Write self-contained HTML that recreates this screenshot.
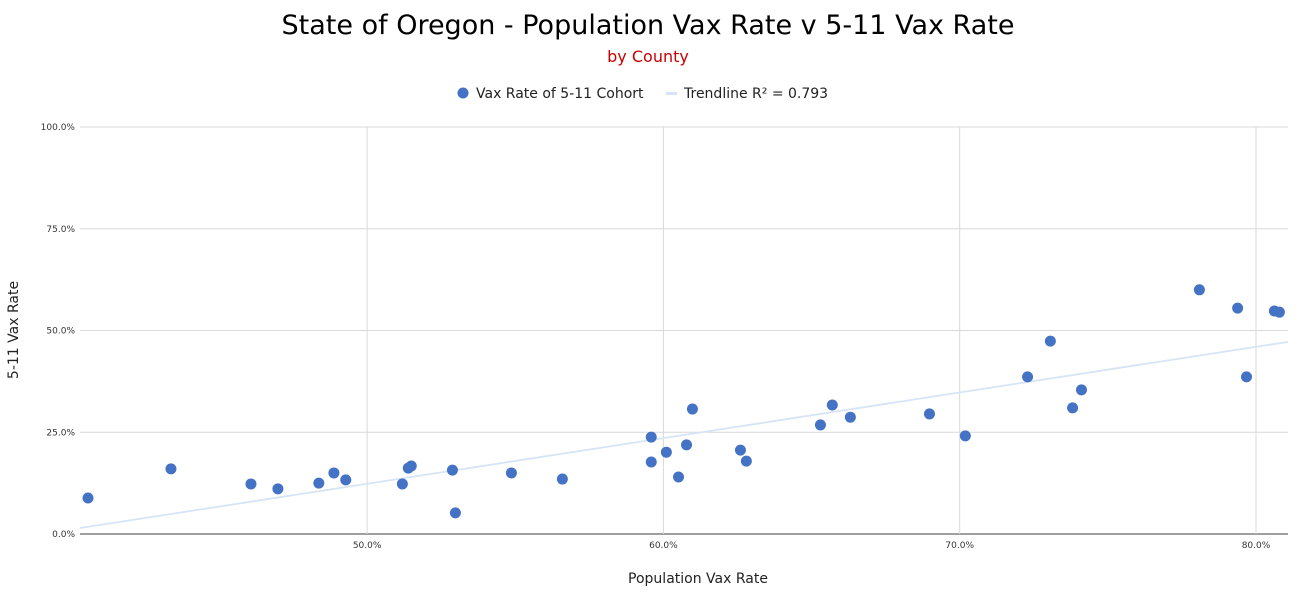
<!DOCTYPE html>
<html><head><meta charset="utf-8"><style>
html,body{margin:0;padding:0;background:#fff;}
svg{display:block;font-family:"DejaVu Sans","Liberation Sans",sans-serif;}
</style></head><body>
<svg id="chart" width="1304" height="598">
<text x="648" y="34" text-anchor="middle" font-size="27" fill="#000">State of Oregon - Population Vax Rate v 5-11 Vax Rate</text>
<text x="648" y="62" text-anchor="middle" font-size="16" fill="#cc0000">by County</text>
<g>
<circle cx="463" cy="93" r="5.5" fill="#4472c4"/>
<text x="476" y="98" font-size="14" fill="#222">Vax Rate of 5-11 Cohort</text>
<rect x="666" y="92" width="11" height="3" fill="#d6e4f5"/>
<text x="684" y="98" font-size="14" fill="#222">Trendline R² = 0.793</text>
</g>
<g id="grid"></g><g id="trend"></g><g id="pts"></g><g id="axes"></g>
<text x="698" y="583" text-anchor="middle" font-size="14" fill="#222">Population Vax Rate</text>
<text transform="translate(18,330) rotate(-90)" text-anchor="middle" font-size="14" fill="#222">5-11 Vax Rate</text>
</svg>
<script>
const popRate=[40.58,43.38,46.08,46.99,48.37,48.88,49.28,51.19,51.39,51.49,52.88,52.98,54.87,56.59,59.59,59.59,60.10,60.51,60.78,60.98,62.60,62.80,65.30,65.70,66.31,68.98,70.19,72.29,73.06,73.81,74.11,78.09,79.38,79.68,80.62,80.79];
const kidRate=[8.85,16.0,12.3,11.1,12.5,15.0,13.3,12.3,16.2,16.7,15.7,5.2,15.0,13.5,23.8,17.7,20.1,14.0,21.9,30.7,20.6,17.9,26.8,31.7,28.7,29.5,24.1,38.6,47.4,31.0,35.4,60.0,55.5,38.6,54.8,54.5];
const xTicks=[50,60,70,80];
const yTicks=[0,25,50,75,100];
const trendEnds=[[40.31,1.47],[81.08,47.2]];
const NS="http://www.w3.org/2000/svg";
const X0=80,X1=1288,XMIN=40.31,XMAX=81.08,Y0=534,Y1=127;
const sx=v=>X0+(v-XMIN)/(XMAX-XMIN)*(X1-X0);
const sy=v=>Y0-v/100*(Y0-Y1);
function mk(tag,attrs,parent){const e=document.createElementNS(NS,tag);for(const k in attrs)e.setAttribute(k,attrs[k]);document.getElementById(parent).appendChild(e);return e;}
yTicks.forEach(t=>{
 const l=mk('line',{x1:X0,x2:X1,y1:sy(t),y2:sy(t),stroke:t===0?'#666':'#d9d9d9','stroke-width':t===0?1.2:1},'grid');
 
 
 const tx=mk('text',{x:75,y:sy(t)+3,'text-anchor':'end','font-size':9,fill:'#333'},'axes');
 tx.textContent=t.toFixed(1)+'%';
 
 
});
xTicks.forEach(t=>{
 const l=mk('line',{x1:sx(t),x2:sx(t),y1:Y1,y2:Y0,stroke:'#d9d9d9'},'grid');
 
 
 const tx=mk('text',{x:sx(t),y:548,'text-anchor':'middle','font-size':9,fill:'#333'},'axes');
 tx.textContent=t.toFixed(1)+'%';
 
 
});
const tl=mk('line',{x1:sx(trendEnds[0][0]),y1:sy(trendEnds[0][1]),x2:sx(trendEnds[1][0]),y2:sy(trendEnds[1][1]),stroke:'#d6e4f5','stroke-width':1.8},'trend');


popRate.forEach((p,i)=>{
 const c=mk('circle',{cx:sx(p),cy:sy(kidRate[i]),r:5.5,fill:'#4472c4'},'pts');
 
 
});
</script>
</body></html>
